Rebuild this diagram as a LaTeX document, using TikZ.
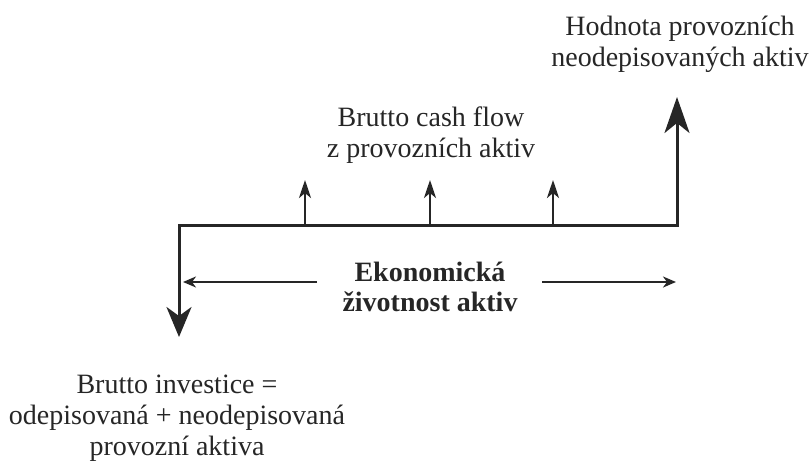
\documentclass[tikz,border=0pt]{standalone}
\usepackage{fontspec}
\setmainfont{Liberation Serif}
\usetikzlibrary{arrows.meta}

\tikzset{
  label text/.style={font=\fontsize{28}{31}\selectfont, align=center, inner sep=0pt, text=black!85},
  bold text/.style={label text, font=\fontsize{28}{30}\selectfont\bfseries},
  flow line/.style={draw=black!85, line width=3pt, line join=miter},
  big head/.tip={Stealth[length=30pt, width=25pt, inset=9pt]},
  tall head/.tip={Stealth[length=36pt, width=25pt, inset=10pt]},
  small head/.tip={Stealth[length=18pt, width=12pt, inset=5pt]},
  span head/.tip={Stealth[length=13pt, width=11pt, inset=4pt]},
  cash arrow/.style={draw=black!85, line width=2.6pt, -{small head}},
  span arrow/.style={draw=black!85, line width=2.2pt, -{span head}},
}

\begin{document}
\begin{tikzpicture}[x=1pt, y=-1pt]
  \useasboundingbox (0,0) rectangle (811,461);

  % corners and ends of the time line
  \coordinate (outTip) at (179,337);
  \coordinate (cornerL) at (179,225);
  \coordinate (cornerR) at (677,225);
  \coordinate (inTip) at (677,97);

  % investment down, operating line, residual value up
  \draw[flow line, {big head}-{tall head}] (outTip) -- (cornerL) -- (cornerR) -- (inTip);

  % yearly gross cash flows
  \foreach \i/\x in {1/305, 2/430, 3/553} {
    \coordinate (cf\i) at (\x,225);
    \coordinate (cfTip\i) at (\x,180);
    \draw[cash arrow] (cf\i) -- (cfTip\i);
  }

  % economic life span
  \node[bold text] (life) at (430,287) {Ekonomická\\životnost aktiv};
  \coordinate (lifeL) at (183,282);
  \coordinate (lifeR) at (676,282);
  \coordinate (lifeLs) at (317,282);
  \coordinate (lifeRs) at (542,282);
  \draw[span arrow] (lifeLs) -- (lifeL);
  \draw[span arrow] (lifeRs) -- (lifeR);

  % labels
  \node[label text] (residual) at (680,44) {Hodnota provozních\\neodepisovaných aktiv};
  \node[label text] (cash) at (431,135) {Brutto cash flow\\z provozních aktiv};
  \node[label text] (invest) at (177,418) {Brutto investice =\\odepisovaná + neodepisovaná\\provozní aktiva};
\end{tikzpicture}
\end{document}
